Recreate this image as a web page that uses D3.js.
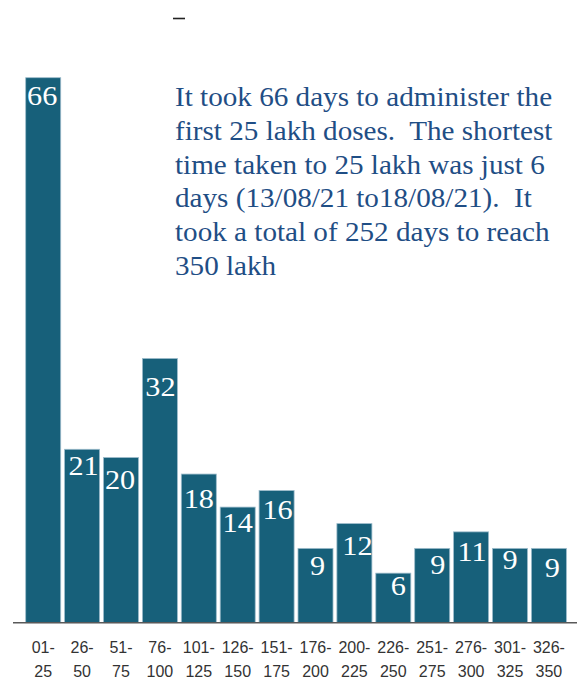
<!DOCTYPE html>
<meta charset="utf-8">
<script src="https://d3js.org/d3.v7.min.js"></script>
<style>
  body { margin: 0; background: #fff; }
</style>
<div id="chart"></div>
<script>
// ranges of lakh doses
var rangeTop = ["01-", "26-", "51-", "76-", "101-", "126-", "151-", "176-", "200-", "226-", "251-", "276-", "301-", "326-"];
var rangeBottom = ["25", "50", "75", "100", "125", "150", "175", "200", "225", "250", "275", "300", "325", "350"];
// days taken for each 25 lakh
var days = [66, 21, 20, 32, 18, 14, 16, 9, 12, 6, 9, 11, 9, 9];

var note = [
  "It took 66 days to administer the",
  "first 25 lakh doses.  The shortest",
  "time taken to 25 lakh was just 6",
  "days (13/08/21 to18/08/21).  It",
  "took a total of 252 days to reach",
  "350 lakh"
];

// hand placed value labels in the original, nudged a bit per bar
var labelDy = [27, 26, 31, 38, 34, 25, 28, 27, 31, 22, 26, 29, 21, 29];
var labelDx = [-1, 1.5, -1, 0.5, 0, 0, 1, 2, 3, 5, 5.5, 1, 0, 3.5];

var width = 577, height = 683;
var base = 622.7;

var svg = d3.select("#chart").append("svg")
    .attr("width", width)
    .attr("height", height);

var x = d3.scaleBand()
  .domain(d3.range(days.length))
  .range([23.75, 568.35])
  .paddingInner(0.1)
  .paddingOuter(0.05);

var y = d3.scaleLinear()
  .domain([0, 66])
  .range([base, 77.7]);

// bars
svg.selectAll("rect.bar")
  .data(days)
  .enter()
  .append("rect")
    .attr("class", "bar")
    .attr("x", function(d, i) { return x(i); })
    .attr("y", function(d) { return y(d); })
    .attr("width", x.bandwidth())
    .attr("height", function(d) { return base - y(d); })
    .attr("fill", "#17607a")
    .attr("stroke", "#9dbccb")
    .attr("stroke-width", 0.8);

// value labels (the source font is a bit wider than Liberation Serif)
svg.selectAll("text.val")
  .data(days)
  .enter()
  .append("text")
    .attr("class", "val")
    .attr("transform", function(d, i) {
      var cx = x(i) + x.bandwidth() / 2 + labelDx[i];
      return "translate(" + cx + "," + (y(d) + labelDy[i]) + ") scale(1.08,1)";
    })
    .attr("text-anchor", "middle")
    .attr("fill", "#fff")
    .style("font-family", "'Liberation Serif', 'Times New Roman', serif")
    .style("font-size", "28px")
    .text(function(d) { return d; });

// baseline
svg.append("line")
  .attr("x1", 13).attr("x2", width)
  .attr("y1", base).attr("y2", base)
  .attr("stroke", "#595959")
  .attr("stroke-width", 1.5);

// category labels, two lines each
var cat = svg.selectAll("text.cat")
  .data(days)
  .enter()
  .append("text")
    .attr("class", "cat")
    .attr("text-anchor", "middle")
    .attr("fill", "#333")
    .style("font-family", "'Liberation Sans', Arial, sans-serif")
    .style("font-size", "16px");
cat.append("tspan")
  .attr("x", function(d, i) { return x(i) + x.bandwidth() / 2; })
  .attr("y", 653)
  .text(function(d, i) { return rangeTop[i]; });
cat.append("tspan")
  .attr("x", function(d, i) { return x(i) + x.bandwidth() / 2; })
  .attr("y", 677)
  .text(function(d, i) { return rangeBottom[i]; });

// annotation
svg.append("text")
  .attr("fill", "#1f4e85")
  .attr("transform", "translate(175,0) scale(1.1,1)")
  .style("font-family", "'Liberation Serif', 'Times New Roman', serif")
  .style("font-size", "26.5px")
  .selectAll("tspan")
  .data(note)
  .enter()
  .append("tspan")
    .attr("x", 0)
    .attr("y", function(d, i) { return 106 + i * 33.8; })
    .style("white-space", "pre")
    .text(function(d) { return d; });

// small stray dash at the top
svg.append("line")
  .attr("x1", 173).attr("x2", 185)
  .attr("y1", 18.5).attr("y2", 18.5)
  .attr("stroke", "#222")
  .attr("stroke-width", 1.6);
</script>
